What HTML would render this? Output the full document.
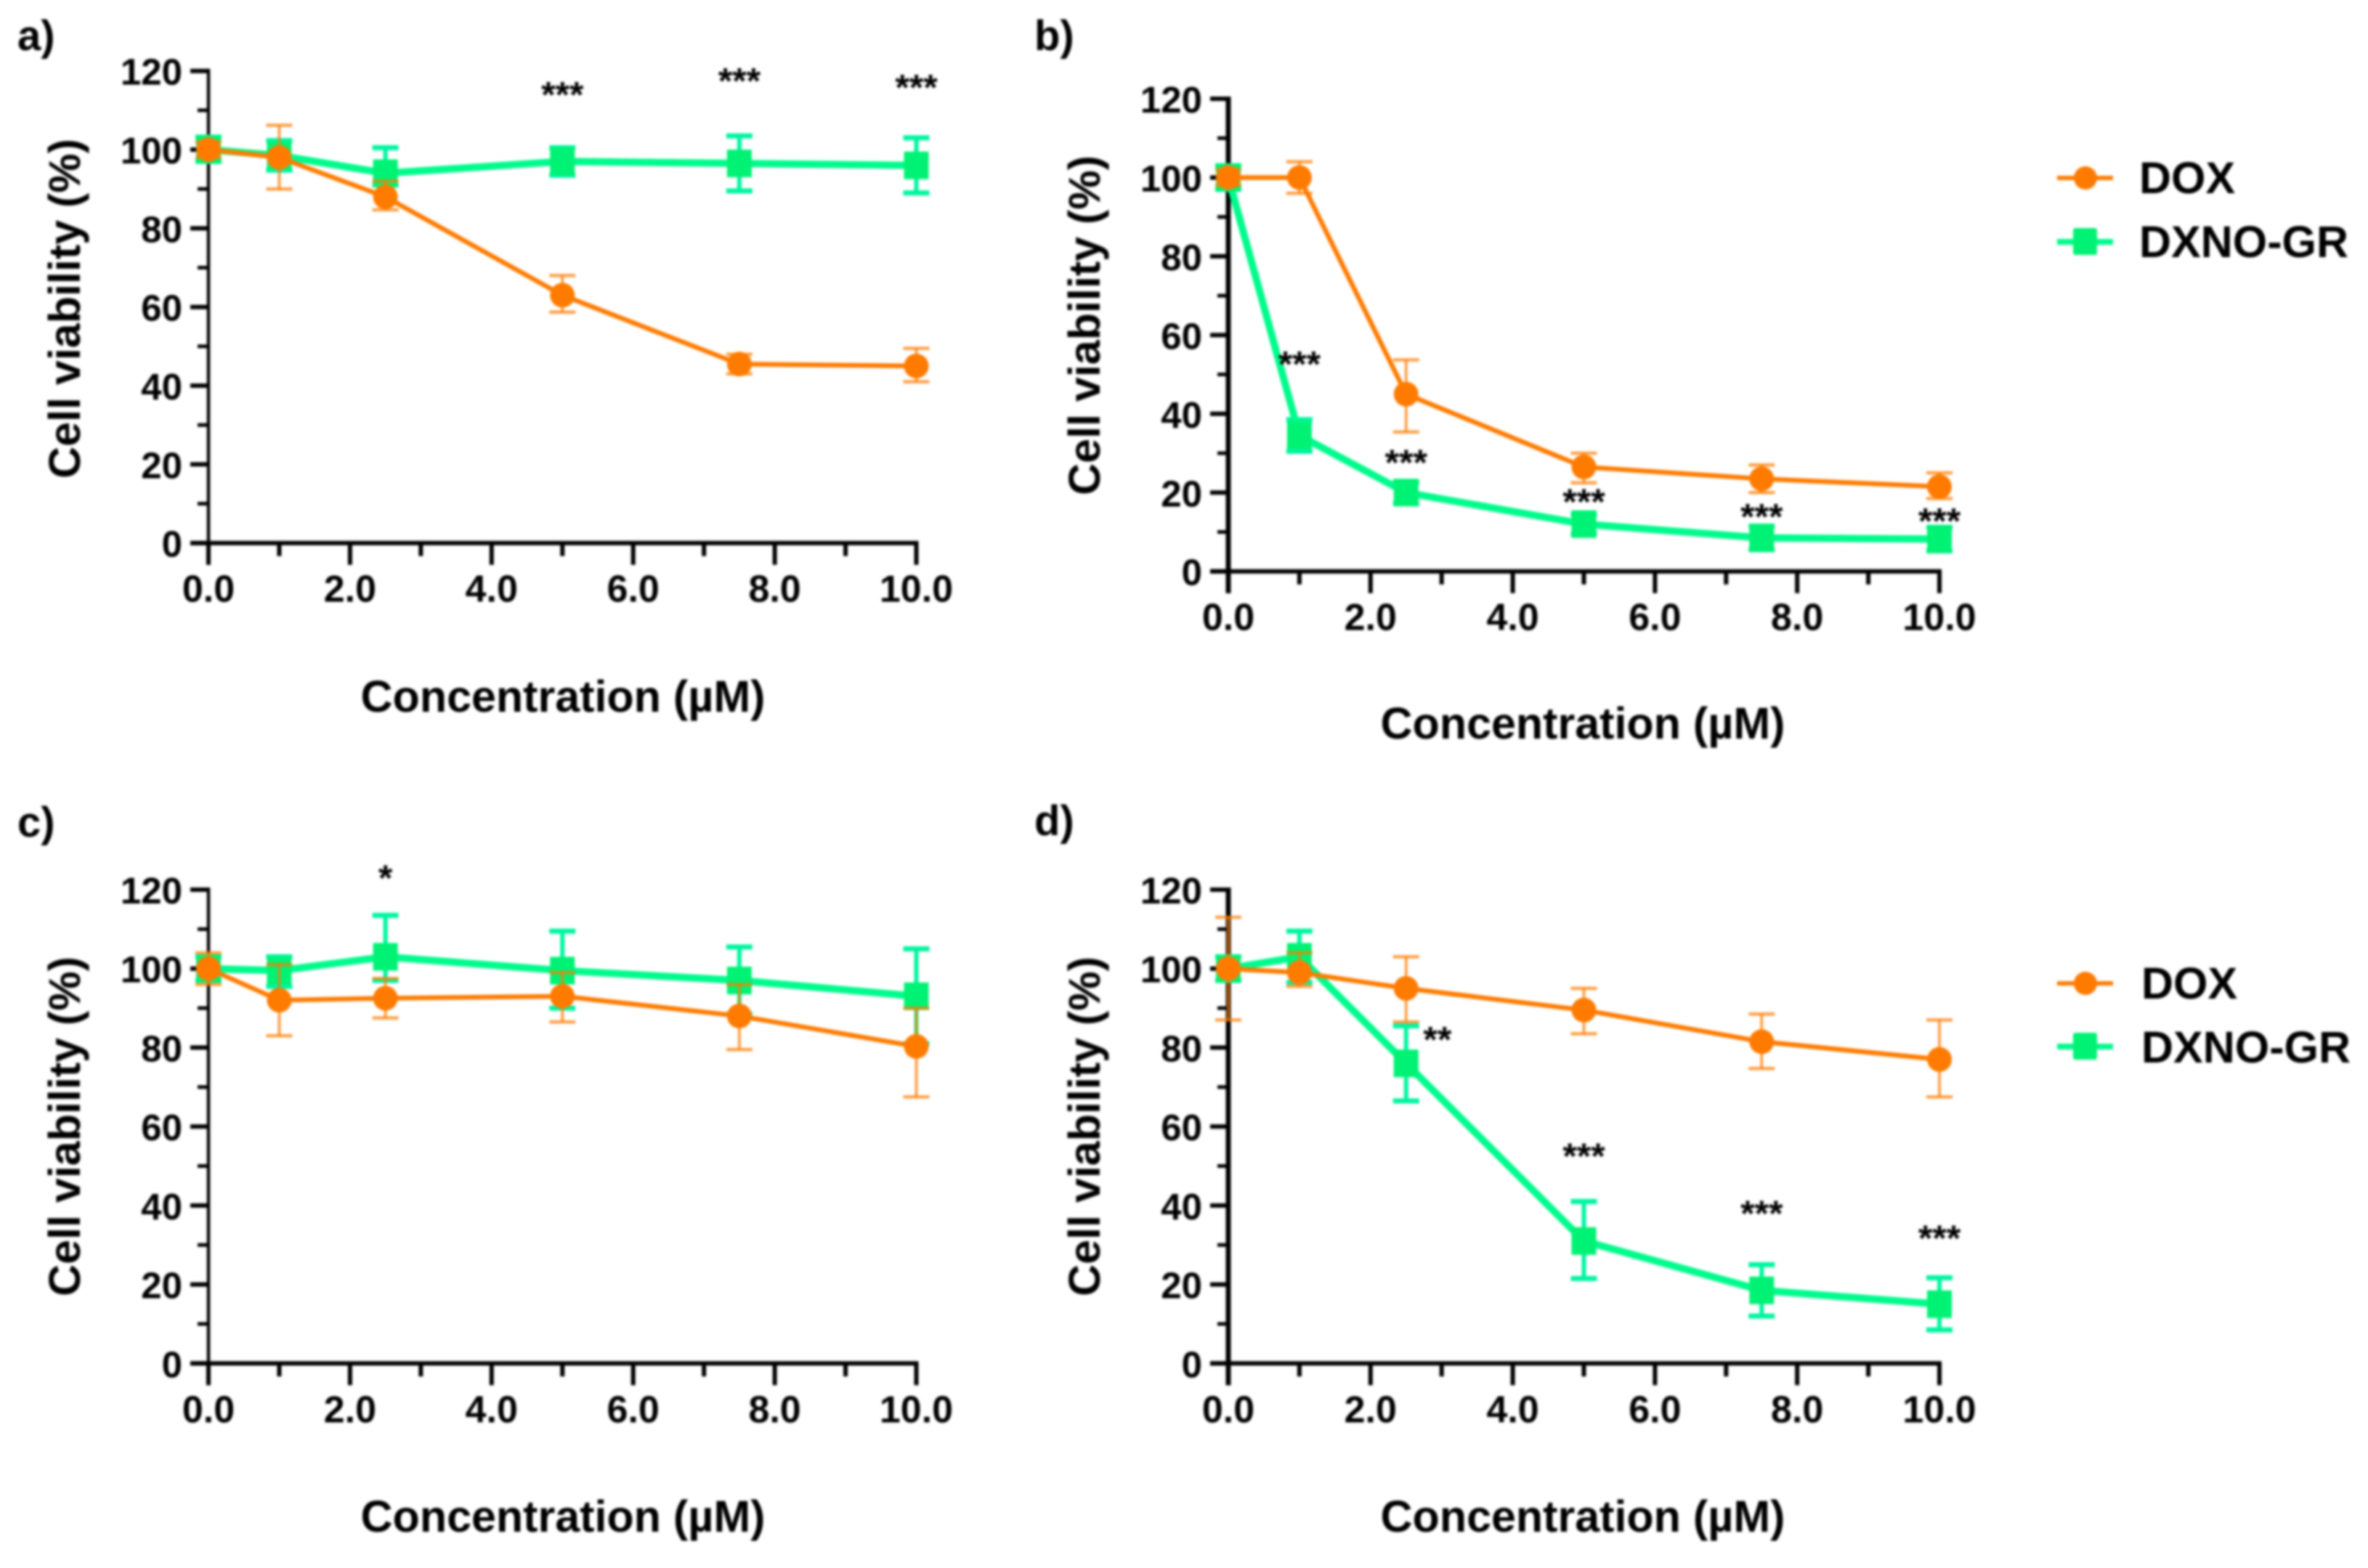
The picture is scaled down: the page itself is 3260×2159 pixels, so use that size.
<!DOCTYPE html>
<html lang="en">
<head>
<meta charset="utf-8">
<title>Cell viability versus concentration, four panels</title>
<style>
html,body{margin:0;padding:0;background:#fff;width:3260px;height:2159px;overflow:hidden}
svg{display:block;filter:blur(1.5px)}
text{font-family:"Liberation Sans",Arial,sans-serif;font-weight:700;fill:#000}
.title{font-size:61px}
.letter{font-size:58px}
.legend{font-size:61px}
</style>
</head>
<body>
<svg id="figure" xmlns="http://www.w3.org/2000/svg" width="3260" height="2159" viewBox="0 0 3260 2159">
  <rect x="0" y="0" width="3260" height="2159" fill="#fff"/>

  <text class="letter" x="24" y="69">a)</text>
  <text class="letter" x="1424" y="69">b)</text>
  <text class="letter" x="24" y="1152">c)</text>
  <text class="letter" x="1424" y="1150">d)</text>

  <text class="title" text-anchor="middle" transform="translate(110 425) rotate(-90)">Cell viability (%)</text>
  <text class="title" text-anchor="middle" transform="translate(1514 448) rotate(-90)">Cell viability (%)</text>
  <text class="title" text-anchor="middle" transform="translate(110 1551) rotate(-90)">Cell viability (%)</text>
  <text class="title" text-anchor="middle" transform="translate(1514 1551) rotate(-90)">Cell viability (%)</text>

  <text class="title" text-anchor="middle" x="775" y="980">Concentration (µM)</text>
  <text class="title" text-anchor="middle" x="2179" y="1017">Concentration (µM)</text>
  <text class="title" text-anchor="middle" x="775" y="2109">Concentration (µM)</text>
  <text class="title" text-anchor="middle" x="2179" y="2109">Concentration (µM)</text>

  <g>
    <g>
      <line x1="2832" y1="245" x2="2909" y2="245" stroke="#ff7b00" stroke-width="6"/>
      <circle cx="2871" cy="245" r="16" fill="#ff7b00"/>
      <text class="legend" x="2945" y="266">DOX</text>
    </g>
    <g>
      <line x1="2832" y1="333" x2="2909" y2="333" stroke="#00fb8c" stroke-width="8"/>
      <rect x="2854" y="314" width="33" height="37" rx="3" fill="#00f274"/>
      <text class="legend" x="2945" y="354">DXNO-GR</text>
    </g>
  </g>
  <g>
    <g>
      <line x1="2832" y1="1354" x2="2909" y2="1354" stroke="#ff7b00" stroke-width="6"/>
      <circle cx="2871" cy="1354" r="16" fill="#ff7b00"/>
      <text class="legend" x="2948" y="1375">DOX</text>
    </g>
    <g>
      <line x1="2832" y1="1441" x2="2909" y2="1441" stroke="#00fb8c" stroke-width="8"/>
      <rect x="2854" y="1422" width="33" height="37" rx="3" fill="#00f274"/>
      <text class="legend" x="2948" y="1463">DXNO-GR</text>
    </g>
  </g>
</svg>

<script>
// Shared axes data
var concentrations = [0, 1, 2.5, 5, 7.5, 10];
var xTickValues = [0, 2, 4, 6, 8, 10];
var xTickLabels = ["0.0", "2.0", "4.0", "6.0", "8.0", "10.0"];
var xMinorTickValues = [1, 3, 5, 7, 9];
var yTickValues = [0, 20, 40, 60, 80, 100, 120];
var yTickLabels = ["0", "20", "40", "60", "80", "100", "120"];
var yMinorTickValues = [10, 30, 50, 70, 90, 110];

// Panel a
var doxA = [100, 98, 88, 63, 45.5, 45];
var doxAHigh = [102, 106.2, 92, 68, 48, 49.5];
var doxALow = [98, 90, 84.7, 58.7, 43, 41];
var grA = [100, 98.5, 94, 97, 96.5, 96];
var grAHigh = [103.2, 102.3, 100.5, 100.5, 103.5, 103];
var grALow = [97, 94.8, 91, 93.5, 89.5, 89];
var starsAConc = [5, 7.5, 10];
var starsAHeight = [116, 119.5, 117.8];
var starsALabels = ["***", "***", "***"];

// Panel b
var doxB = [100, 100, 45, 26.5, 23.5, 21.5];
var doxBHigh = [102, 104, 53.7, 30, 27, 25];
var doxBLow = [98, 96, 35.4, 22.5, 20, 18.5];
var grB = [100, 34.5, 20, 12, 8.5, 8.2];
var grBHigh = [103, 38.5, 22.7, 14.5, 11.5, 11.2];
var grBLow = [97, 30.5, 17.3, 9.5, 5.5, 5.2];
var starsBConc = [1, 2.5, 5, 7.5, 10];
var starsBHeight = [54.6, 29.6, 19.7, 15.9, 14.8];
var starsBLabels = ["***", "***", "***", "***", "***"];

// Panel c
var doxC = [100, 92, 92.5, 93, 88, 80.3];
var doxCHigh = [104, 101, 97.5, 99, 96, 90];
var doxCLow = [96, 83, 87.5, 86.5, 79.5, 67.5];
var grC = [100, 99.5, 103, 99.5, 97, 93];
var grCHigh = [103, 103, 113.5, 109.5, 105.5, 105];
var grCLow = [97, 95.5, 97, 90, 88.5, 81];
var starsCConc = [2.5];
var starsCHeight = [125];
var starsCLabels = ["*"];

// Panel d
var doxD = [100, 99, 95, 89.5, 81.5, 77];
var doxDHigh = [113, 104, 103, 95, 88.5, 87];
var doxDLow = [87, 95.5, 86.5, 83.5, 74.7, 67.5];
var grD = [100, 103, 76, 31, 18.5, 15];
var grDHigh = [103, 109.5, 85.5, 41, 25, 21.7];
var grDLow = [97, 96.5, 66.5, 21.5, 12, 8.5];
var starsDConc = [2.94, 5, 7.5, 10];
var starsDHeight = [84, 54.5, 40, 33.7];
var starsDLabels = ["**", "***", "***", "***"];

var SVG_NS = "http://www.w3.org/2000/svg";
var figure = document.getElementById("figure");

function make(parent, tag, attrs) {
  var el = document.createElementNS(SVG_NS, tag);
  for (var key in attrs) {
    el.setAttribute(key, attrs[key]);
  }
  parent.appendChild(el);
  return el;
}

function drawAxes(g, xScale, yScale, axisWidth, panelId) {
  var x0 = xScale(0), y0 = yScale(0);
  var el;
  yTickValues.forEach(function (v, i) {
    el = make(g, "line", {x1: x0 - 25, x2: x0, y1: yScale(v), y2: yScale(v), stroke: "#000", "stroke-width": 6});
    
    
    el = make(g, "text", {x: x0 - 36, y: yScale(v) + 19, "text-anchor": "end", "font-size": 51});
    el.textContent = yTickLabels[i];
    
    
  });
  yMinorTickValues.forEach(function (v) {
    el = make(g, "line", {x1: x0 - 15, x2: x0, y1: yScale(v), y2: yScale(v), stroke: "#000", "stroke-width": 5});
    
    
  });
  xTickValues.forEach(function (v, i) {
    el = make(g, "line", {x1: xScale(v), x2: xScale(v), y1: y0, y2: y0 + 30, stroke: "#000", "stroke-width": 6});
    
    
    el = make(g, "text", {x: xScale(v), y: y0 + 81, "text-anchor": "middle", "font-size": 52});
    el.textContent = xTickLabels[i];
    
    
  });
  xMinorTickValues.forEach(function (v) {
    el = make(g, "line", {x1: xScale(v), x2: xScale(v), y1: y0, y2: y0 + 18, stroke: "#000", "stroke-width": 6});
    
    
  });
  el = make(g, "line", {x1: x0, x2: x0, y1: yScale(120) - 3, y2: y0 + 30, stroke: "#000", "stroke-width": axisWidth});
  
  
  el = make(g, "line", {x1: x0 - 25, x2: xScale(10) + 3, y1: y0, y2: y0, stroke: "#000", "stroke-width": 6});
  
  
}

function pointsAttr(values, xScale, yScale) {
  return values.map(function (v, i) {
    return xScale(concentrations[i]) + "," + yScale(v);
  }).join(" ");
}

function drawErrors(g, high, low, xScale, yScale, style, seriesId) {
  concentrations.forEach(function (c, i) {
    var x = xScale(c);
    var el = make(g, "line", {x1: x, x2: x, y1: yScale(high[i]), y2: yScale(low[i]), stroke: style.color, "stroke-width": style.stem, "stroke-opacity": style.opacity});
    
    
    [high[i], low[i]].forEach(function (v) {
      var cap = make(g, "line", {x1: x - 18, x2: x + 18, y1: yScale(v), y2: yScale(v), stroke: style.color, "stroke-width": style.cap, "stroke-opacity": style.opacity});
      
      
    });
  });
}

function drawPanel(cfg) {
  var xScale = function (v) { return cfg.left + (cfg.right - cfg.left) * v / 10; };
  var yScale = function (v) { return cfg.bottom - (cfg.bottom - cfg.top) * v / 120; };
  var g = make(figure, "g", {});
  
  

  drawAxes(g, xScale, yScale, cfg.axisWidth, cfg.id);

  var grGroup = make(g, "g", {});
  
  
  drawErrors(grGroup, cfg.grHigh, cfg.grLow, xScale, yScale, {color: "#00f5a0", stem: 6, cap: 7, opacity: 1}, "dxno-gr");
  var grLine = make(grGroup, "polyline", {points: pointsAttr(cfg.gr, xScale, yScale), fill: "none", stroke: "#00fb8c", "stroke-width": 10, "stroke-linejoin": "round"});
  
  
  cfg.gr.forEach(function (v, i) {
    var m = make(grGroup, "rect", {x: xScale(concentrations[i]) - 17, y: yScale(v) - 19, width: 34, height: 38, fill: "#00f274"});
    
    
  });

  var doxGroup = make(g, "g", {});
  
  
  drawErrors(doxGroup, cfg.doxHigh, cfg.doxLow, xScale, yScale, {color: "#ff7b00", stem: 4, cap: 4.5, opacity: 0.72}, "dox");
  var doxLine = make(doxGroup, "polyline", {points: pointsAttr(cfg.dox, xScale, yScale), fill: "none", stroke: "#ff7b00", "stroke-width": 6.5, "stroke-linejoin": "round"});
  
  
  cfg.dox.forEach(function (v, i) {
    var m = make(doxGroup, "circle", {cx: xScale(concentrations[i]), cy: yScale(v), r: 17, fill: "#ff7b00"});
    
    
  });

  cfg.starConc.forEach(function (c, i) {
    var s = make(g, "text", {x: xScale(c), y: yScale(cfg.starHeight[i]) + 28, "text-anchor": "middle", "font-size": 50});
    s.textContent = cfg.starLabels[i];
    
    
  });
}

drawPanel({id: "panel-a", left: 287, right: 1261.5, top: 97.7, bottom: 747.7, axisWidth: 4.5,
  dox: doxA, doxHigh: doxAHigh, doxLow: doxALow, gr: grA, grHigh: grAHigh, grLow: grALow,
  starConc: starsAConc, starHeight: starsAHeight, starLabels: starsALabels});
drawPanel({id: "panel-b", left: 1691, right: 2670, top: 136, bottom: 786.7, axisWidth: 7,
  dox: doxB, doxHigh: doxBHigh, doxLow: doxBLow, gr: grB, grHigh: grBHigh, grLow: grBLow,
  starConc: starsBConc, starHeight: starsBHeight, starLabels: starsBLabels});
drawPanel({id: "panel-c", left: 287, right: 1261.5, top: 1225, bottom: 1877.3, axisWidth: 4.5,
  dox: doxC, doxHigh: doxCHigh, doxLow: doxCLow, gr: grC, grHigh: grCHigh, grLow: grCLow,
  starConc: starsCConc, starHeight: starsCHeight, starLabels: starsCLabels});
drawPanel({id: "panel-d", left: 1691, right: 2670, top: 1225, bottom: 1877.3, axisWidth: 7,
  dox: doxD, doxHigh: doxDHigh, doxLow: doxDLow, gr: grD, grHigh: grDHigh, grLow: grDLow,
  starConc: starsDConc, starHeight: starsDHeight, starLabels: starsDLabels});
</script>
</body>
</html>
